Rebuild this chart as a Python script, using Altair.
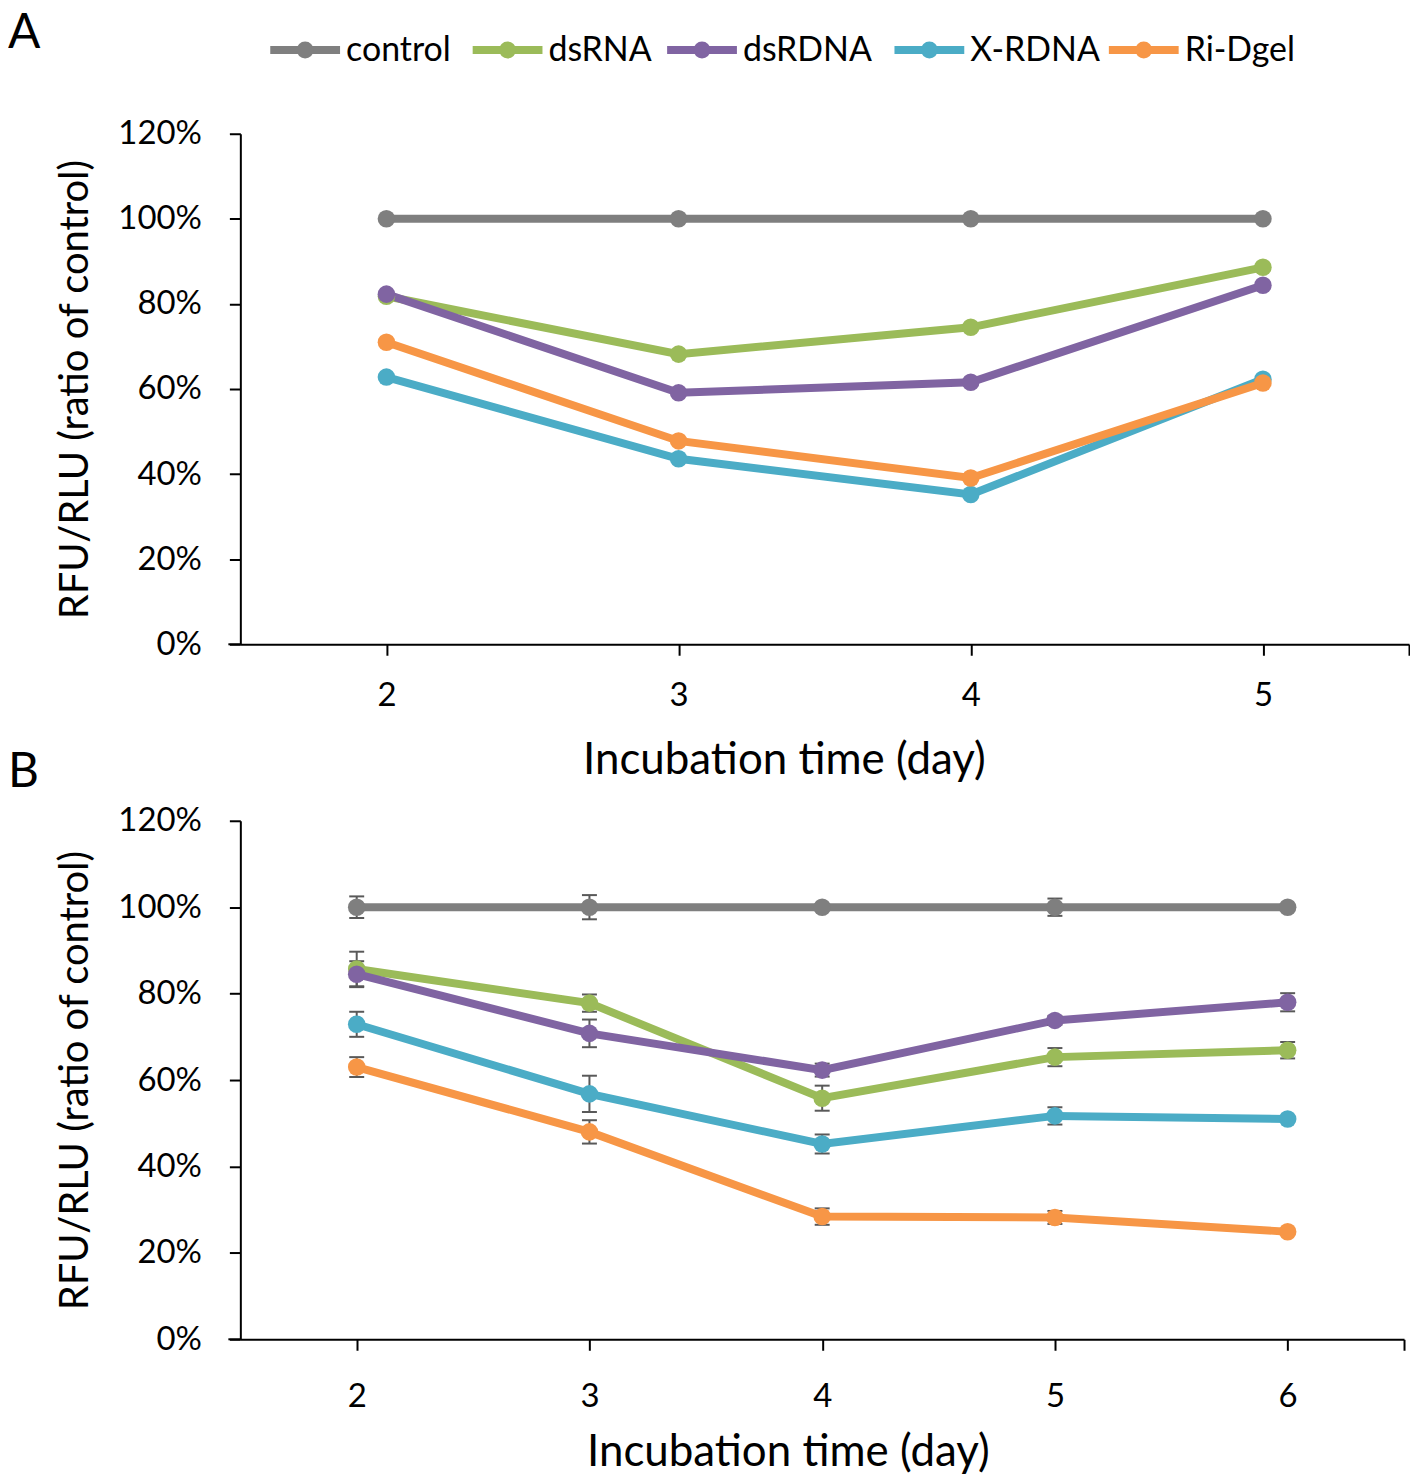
import altair as alt
import pandas as pd

FONT = "Lato"

SERIES = ["control", "dsRNA", "dsRDNA", "X-RDNA", "Ri-Dgel"]
COLORS = ["#7f7f7f", "#9bbb59", "#8064a2", "#4bacc6", "#f79646"]

# Panel A (no error bars)
DAYS_A = [2, 3, 4, 5]
A_control = [1.000, 1.000, 1.000, 1.000]
A_dsRNA = [0.818, 0.682, 0.745, 0.886]
A_dsRDNA = [0.823, 0.591, 0.616, 0.844]
A_XRDNA = [0.628, 0.436, 0.352, 0.623]
A_RiDgel = [0.710, 0.478, 0.391, 0.614]

# Panel B (with error bars)
DAYS_B = [2, 3, 4, 5, 6]
B_control = [1.000, 1.000, 1.000, 1.000, 1.000]
B_dsRNA = [0.857, 0.778, 0.558, 0.653, 0.669]
B_dsRDNA = [0.845, 0.708, 0.623, 0.738, 0.780]
B_XRDNA = [0.729, 0.568, 0.452, 0.517, 0.510]
B_RiDgel = [0.630, 0.480, 0.284, 0.282, 0.249]

E_control = [0.025, 0.028, 0.004, 0.020, 0.004]
E_dsRNA = [0.040, 0.020, 0.029, 0.021, 0.019]
E_dsRDNA = [0.030, 0.032, 0.015, 0.010, 0.021]
E_XRDNA = [0.029, 0.042, 0.022, 0.020, 0.005]
E_RiDgel = [0.023, 0.027, 0.019, 0.015, 0.005]

Y_TICKS = [0, 0.2, 0.4, 0.6, 0.8, 1.0, 1.2]
X_TITLE = "Incubation time (day)"
Y_TITLE = "RFU/RLU (ratio of control)"

# legend layout (pixel offsets of each key from the plot's left edge)
LEGEND_SLOTS = [30, 233, 428, 656, 871]
LEGEND_Y = -84
KEY_LEN = 70


def build_df(days, series_vals, series_errs=None):
    rows = []
    for i, s in enumerate(SERIES):
        for j, d in enumerate(days):
            v = series_vals[i][j]
            e = series_errs[i][j] if series_errs else 0.0
            rows.append({"day": d, "series": s, "value": v,
                         "lo": v - e, "hi": v + e})
    return pd.DataFrame(rows)


color = alt.Color("series:N", scale=alt.Scale(domain=SERIES, range=COLORS),
                  legend=None)


def legend_layer(width):
    ldf = pd.DataFrame({"series": SERIES, "slot": LEGEND_SLOTS})
    lx = alt.Scale(domain=[0, width], nice=False, zero=False)
    base = alt.Chart(ldf).transform_calculate(
        x2=f"datum.slot + {KEY_LEN}",
        cx=f"datum.slot + {KEY_LEN / 2}",
        tx=f"datum.slot + {KEY_LEN + 6}",
    )
    line = base.mark_rule(strokeWidth=8).encode(
        x=alt.X("slot:Q", scale=lx, axis=None), x2="x2:Q",
        y=alt.value(LEGEND_Y), color=color)
    dot = base.mark_circle(size=290, opacity=1).encode(
        x=alt.X("cx:Q", scale=lx, axis=None), y=alt.value(LEGEND_Y), color=color)
    text = base.mark_text(font=FONT, fontSize=34, align="left",
                          baseline="middle", color="black").encode(
        x=alt.X("tx:Q", scale=lx, axis=None), y=alt.value(LEGEND_Y + 1),
        text="series:N")
    return alt.layer(line, dot, text)


def panel(df, days, width, height, letter, letter_y, err,
          label_pad, title_pad, title_x, legend):
    dom = [days[0] - 0.5, days[-1] + 0.5]
    xs = alt.Scale(domain=dom, nice=False, zero=False)
    ys = alt.Scale(domain=[0, 1.2], nice=False)
    x = alt.X("day:Q", scale=xs,
              axis=alt.Axis(values=days + [dom[1]],
                            labelExpr=f"datum.value == {dom[1]} ? '' : datum.label",
                            title=X_TITLE, labelPadding=label_pad,
                            titlePadding=title_pad, labelFlush=False,
                            titleFontSize=44, titleX=title_x,
                            titleAlign="center"))
    y = alt.Y("value:Q", scale=ys,
              axis=alt.Axis(values=Y_TICKS, format=".0%", title=Y_TITLE,
                            labelPadding=28, titlePadding=22,
                            titleFontSize=40))
    base = alt.Chart(df)
    layers = [base.mark_line(strokeWidth=8).encode(x=x, y=y, color=color)]
    if err:
        layers.append(base.mark_rule(color="#595959", strokeWidth=2).encode(
            x=x, y=alt.Y("lo:Q", scale=ys), y2="hi:Q"))
        layers.append(base.mark_tick(color="#595959", thickness=2, size=15,
                                     orient="horizontal", opacity=1).encode(
            x=x, y=alt.Y("lo:Q", scale=ys)))
        layers.append(base.mark_tick(color="#595959", thickness=2, size=15,
                                     orient="horizontal", opacity=1).encode(
            x=x, y=alt.Y("hi:Q", scale=ys)))
    layers.append(base.mark_circle(size=310, opacity=1).encode(
        x=x, y=y, color=color))
    one = alt.Chart(pd.DataFrame({"letter": [letter]}))
    layers.append(one.mark_rule(color="black", strokeWidth=2).encode(
        x=alt.value(-12), x2=alt.value(0), y=alt.value(height)))
    layers.append(one.mark_text(font=FONT, fontSize=48, align="left",
                                baseline="top", color="black").encode(
        text="letter:N", x=alt.value(-233), y=alt.value(letter_y)))
    main = alt.layer(*layers)
    if legend:
        out = alt.layer(main, legend_layer(width)).resolve_scale(x="independent")
    else:
        out = main
    return out.properties(width=width, height=height)


dfA = build_df(DAYS_A, [A_control, A_dsRNA, A_dsRDNA, A_XRDNA, A_RiDgel])
dfB = build_df(DAYS_B, [B_control, B_dsRNA, B_dsRDNA, B_XRDNA, B_RiDgel],
               [E_control, E_dsRNA, E_dsRDNA, E_XRDNA, E_RiDgel])

pA = panel(dfA, DAYS_A, 1172, 512, "A", -124, False, 24, 27, 545, True)
pB = panel(dfB, DAYS_B, 1167, 520, "B", -72, True, 30, 18, 549, False)

chart = alt.vconcat(pA, pB, spacing=177, bounds="flush", padding=0).configure_view(
    stroke=None
).configure_axis(
    labelFont=FONT, titleFont=FONT, labelFontSize=33, titleFontSize=40,
    titleFontWeight="normal", labelColor="black", titleColor="black",
    domainColor="black", domainWidth=2, tickColor="black", tickWidth=2,
    tickSize=11, grid=False
)

chart.save("out.html", embed_options={"renderer": "svg", "actions": False})
